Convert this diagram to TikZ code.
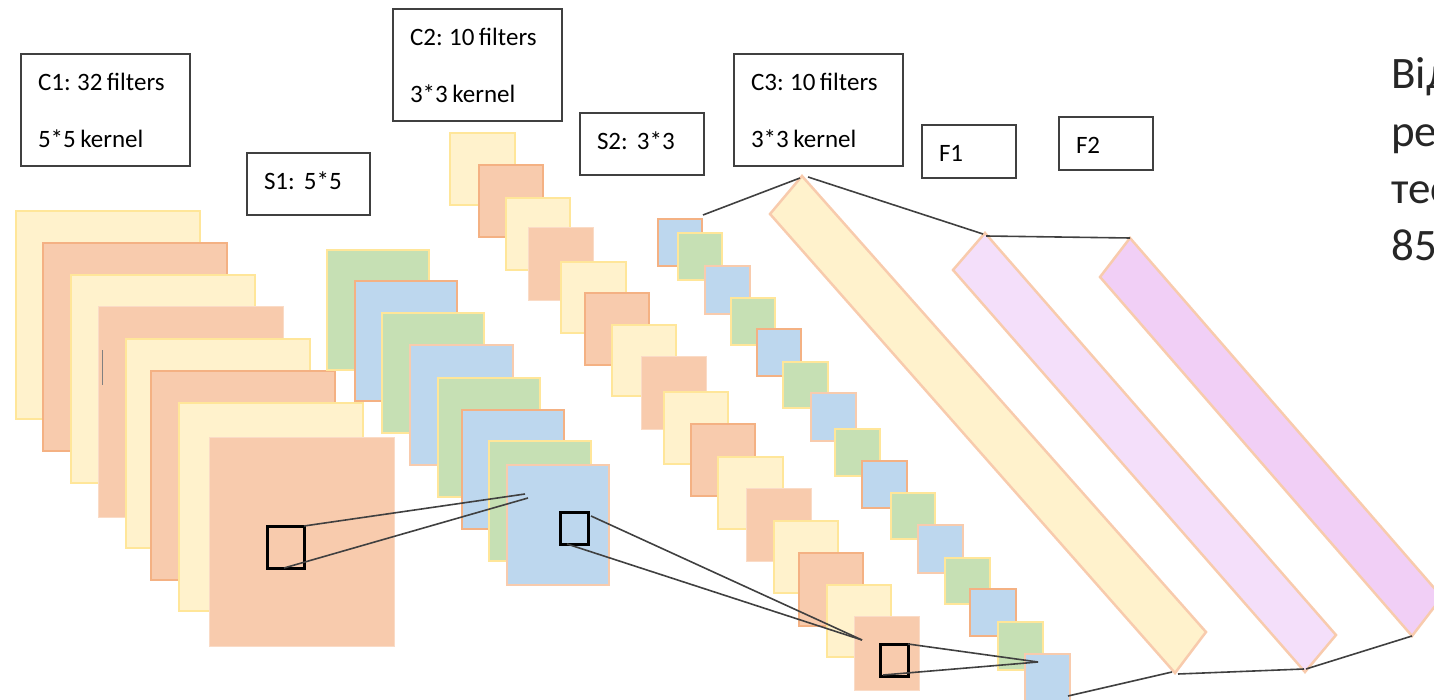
\documentclass[tikz,border=0pt]{standalone}
\usepackage{fontspec}
\setmainfont[WordSpace=0.8]{Carlito}
\definecolor{fy}{HTML}{FFF2CC}
\definecolor{by}{HTML}{FFE699}
\definecolor{fo}{HTML}{F8CBAD}
\definecolor{bo}{HTML}{F4B183}
\definecolor{fg}{HTML}{C6E0B4}
\definecolor{fb}{HTML}{BDD7EE}
\definecolor{pa}{HTML}{F4DFFA}
\definecolor{pb}{HTML}{F1CFF6}
\definecolor{ink}{HTML}{404040}
\tikzset{
  x=1pt,y=-1pt,
  layer/.style={inner sep=0pt,outer sep=0pt,line width=2.5pt},
  yel/.style={layer,fill=fy,draw=by},
  ora/.style={layer,fill=fo,draw=bo},
  pla/.style={layer,fill=fo,draw=fo!70!white,line width=1pt},
  gre/.style={layer,fill=fg,draw=by},
  blo/.style={layer,fill=fb,draw=bo},
  blp/.style={layer,fill=fb,draw=fo},
  barshape/.style={draw=fo,line width=2.5pt,line join=miter},
  capn/.style={draw=ink,fill=white,line width=1.6pt,inner sep=0pt,outer sep=0pt,anchor=north west,
    text=black},
  win/.style={draw=black,line width=3pt,inner sep=0pt,outer sep=0pt},
  link/.style={draw=ink,line width=1.6pt},
  say/.style={anchor=base west,inner sep=0pt,font=\fontsize{45}{45}\selectfont,text=black!85}
}
\newcommand{\lay}[6]{%
  \pgfmathsetmacro{\lw}{#5-#3}\pgfmathsetmacro{\lh}{#6-#4}%
  \node[#2,minimum width=\lw pt,minimum height=\lh pt,anchor=north west] (#1) at (#3,#4) {};}
\newcommand{\capbox}[6]{%
  \pgfmathsetmacro{\lw}{#5-#3}\pgfmathsetmacro{\lh}{#6-#4}%
  \node[capn,minimum width=\lw pt,minimum height=\lh pt] (#1) at (#3,#4) {\hspace*{17pt}\parbox{\dimexpr\lw pt-17pt}{\fontsize{25}{57}\selectfont\raggedright #2}};}
\begin{document}
\begin{tikzpicture}
\useasboundingbox (0,0) rectangle (1434,700);
% C1 stack
\lay{a1}{yel}{16}{211}{200}{419}
\lay{a2}{ora}{43}{243}{227}{451}
\lay{a3}{yel}{71}{275}{255}{483}
\lay{a4}{pla}{98}{307}{283}{517}
\coordinate (m1) at (102,350); \coordinate (m2) at (102,385);
\draw[draw=gray,line width=1pt] (m1) -- (m2);
\lay{a5}{yel}{126}{339}{310}{548}
\lay{a6}{ora}{151}{371}{335}{580}
\lay{a7}{yel}{179}{403}{363}{611}
\lay{a8}{pla}{209}{437}{394}{646}
% S1 stack
\lay{b1}{gre}{327}{250}{429}{370}
\lay{b2}{blo}{355}{281}{457}{401}
\lay{b3}{gre}{382}{313}{484}{433}
\lay{b4}{blp}{410}{345}{513}{465}
\lay{b5}{gre}{438}{378}{540}{497}
\lay{b6}{blo}{462}{410}{564}{529}
\lay{b7}{gre}{489}{441}{591}{561}
\lay{b8}{blp}{507}{465}{609}{585}
% C2 stack
\lay{c1}{yel}{450}{133}{515}{205}
\lay{c2}{ora}{479}{165}{543}{237}
\lay{c3}{yel}{506}{198}{570}{270}
\lay{c4}{pla}{528}{228}{593}{301}
\lay{c5}{yel}{561}{262}{626}{333}
\lay{c6}{ora}{585}{293}{649}{365}
\lay{c7}{yel}{612}{325}{676}{396}
\lay{c8}{pla}{641}{356}{706}{429}
\lay{c9}{yel}{664}{392}{728}{464}
\lay{c10}{ora}{691}{424}{755}{496}
\lay{c11}{yel}{718}{457}{783}{529}
\lay{c12}{pla}{746}{488}{811}{561}
\lay{c13}{yel}{774}{521}{838}{593}
\lay{c14}{ora}{799}{553}{863}{626}
\lay{c15}{yel}{827}{585}{891}{657}
\lay{c16}{pla}{854}{616}{919}{690}
% S2 stack
\lay{d1}{blo}{658}{219}{702}{266}
\lay{d2}{gre}{678}{233}{722}{280}
\lay{d3}{blp}{705}{266}{750}{314}
\lay{d4}{gre}{731}{298}{775}{345}
\lay{d5}{blo}{757}{329}{801}{376}
\lay{d6}{gre}{783}{362}{828}{408}
\lay{d7}{blp}{811}{393}{856}{441}
\lay{d8}{gre}{835}{429}{880}{476}
\lay{d9}{blo}{862}{461}{907}{508}
\lay{d10}{gre}{891}{493}{935}{539}
\lay{d11}{blp}{918}{525}{963}{573}
\lay{d12}{gre}{945}{558}{990}{604}
\lay{d13}{blo}{970}{589}{1016}{636}
\lay{d14}{gre}{998}{622}{1043}{670}
\lay{d15}{blp}{1025}{654}{1070}{712}
% dense bars
\coordinate (e1t) at (802,176); \coordinate (e1l) at (770,214);
\coordinate (e1b) at (1175,673); \coordinate (e1r) at (1206,632);
\coordinate (e2t) at (985,233); \coordinate (e2l) at (953,270);
\coordinate (e2b) at (1305,672); \coordinate (e2r) at (1336,635);
\coordinate (e3t) at (1130,238); \coordinate (e3l) at (1100,277);
\coordinate (e3b) at (1412,636); \coordinate (e3r) at (1442,597);
\draw[barshape,fill=fy] (e1t) -- (e1l) -- (e1b) -- (e1r) -- cycle;
\draw[barshape,fill=pa] (e2t) -- (e2l) -- (e2b) -- (e2r) -- cycle;
\draw[barshape,fill=pb] (e3t) -- (e3l) -- (e3b) -- (e3r) -- cycle;
% sliding windows
\lay{w1}{win}{267}{526}{304}{568}
\lay{w2}{win}{560}{512}{588}{544}
\lay{w3}{win}{880}{644}{908}{676}
% connector ends
\coordinate (p1) at (525,494); \coordinate (p2) at (528,498);
\coordinate (p3) at (284,568);
\coordinate (q1) at (591,516); \coordinate (q2) at (567,544); \coordinate (q3) at (862,640);
\coordinate (r1) at (1038,662); \coordinate (r2) at (883,675);
\coordinate (s1) at (703,215); \coordinate (s2) at (800,178);
\coordinate (s3) at (808,177); \coordinate (s4) at (983,234);
\coordinate (s5) at (986,236); \coordinate (s6) at (1130,238);
\coordinate (t1) at (1068,696); \coordinate (t2) at (1172,672);
\coordinate (t3) at (1178,674); \coordinate (t4) at (1304,669);
\coordinate (t5) at (1306,669); \coordinate (t6) at (1412,636);
\draw[link] (w1.north east) -- (p1);
\draw[link] (p3) -- (p2);
\draw[link] (q1) -- (q3);
\draw[link] (q2) -- (q3);
\draw[link] (w3.north east) -- (r1);
\draw[link] (r2) -- (r1);
\draw[link] (s1) -- (s2);
\draw[link] (s3) -- (s4);
\draw[link] (s5) -- (s6);
\draw[link] (t1) -- (t2);
\draw[link] (t3) -- (t4);
\draw[link] (t5) -- (t6);
% captions
\capbox{k1}{C1: 32 filters\\5*5 kernel}{21}{54}{190}{166}
\capbox{k2}{\rule[-6pt]{0pt}{0pt}S1:\ \ 5*5}{247}{153}{370}{215}
\capbox{k3}{C2: 10 filters\\3*3 kernel}{393}{9}{562}{121}
\capbox{k4}{\rule[-6pt]{0pt}{0pt}S2:\ \ 3*3}{580}{113}{704}{175}
\capbox{k5}{C3: 10 filters\\3*3 kernel}{734}{54}{903}{166}
\capbox{k6}{\rule{0pt}{20pt}F1}{922}{125}{1016}{178}
\capbox{k7}{\rule{0pt}{20pt}F2}{1059}{117}{1153}{170}
% cut-off text at the right edge
\node[say] (n1) at (1391,89) {Від};
\node[say] (n2) at (1391,147) {ре};
\node[say] (n3) at (1391,204) {тес};
\node[say] (n4) at (1391,261) {85};
\end{tikzpicture}
\end{document}
